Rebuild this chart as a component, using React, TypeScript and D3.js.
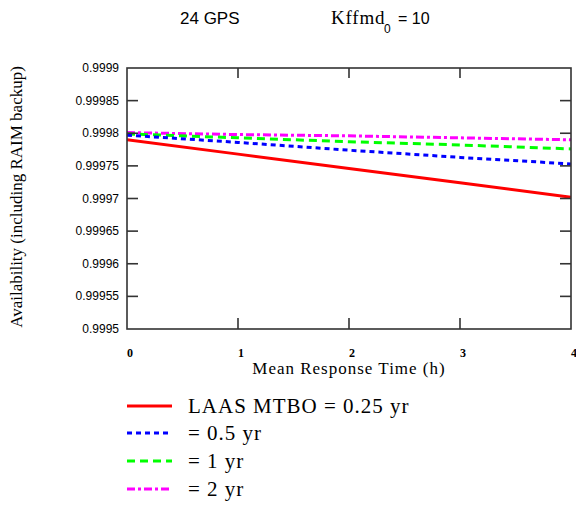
import React from "react";
import * as d3 from "d3";

const hours = [0, 1, 2, 3, 4];
const mtbo025 = [0.99979, 0.999768, 0.999746, 0.999724, 0.999702];
const mtbo05 = [0.999797, 0.999786, 0.999774, 0.999763, 0.999753];
const mtbo1 = [0.999799, 0.999793, 0.999787, 0.999782, 0.999776];
const mtbo2 = [0.999801, 0.999798, 0.999796, 0.999793, 0.99979];
const yTicks = [0.9995, 0.99955, 0.9996, 0.99965, 0.9997, 0.99975, 0.9998, 0.99985, 0.9999];
const yTickLabels = ["0.9995", "0.99955", "0.9996", "0.99965", "0.9997", "0.99975", "0.9998", "0.99985", "0.9999"];
const xTicks = [0, 1, 2, 3, 4];
const legendLabels = ["LAAS MTBO = 0.25 yr", "= 0.5 yr", "= 1 yr", "= 2 yr"];

const seriesStyles = [
  { color: "#ff0000", dash: "" },
  { color: "#0000ff", dash: "5,4" },
  { color: "#00ff00", dash: "8,5" },
  { color: "#ff00ff", dash: "8,3,3,3" },
];

export default function App() {
  const left = 127, right = 571, top = 68, bottom = 329;
  const x = d3.scaleLinear().domain([0, 4]).range([left, right]);
  const y = d3.scaleLinear().domain([0.9995, 0.9999]).range([bottom, top]);
  const series = [mtbo025, mtbo05, mtbo1, mtbo2];
  const line = d3
    .line<[number, number]>()
    .x((d) => x(d[0]))
    .y((d) => y(d[1]));
  const serif = "'Liberation Serif', 'Times New Roman', serif";
  const sans = "'Liberation Sans', Arial, sans-serif";
  const legendY = [406, 433, 461, 489];

  return (
    <svg width={576} height={505} style={{ position: "absolute", left: 0, top: 0, background: "#fff" }}>
      {/* title */}
      <text x={180} y={24} fontFamily={sans} fontSize={17} fill="#000">24 GPS</text>
      <text x={331} y={24} fontFamily={serif} fontSize={19} letterSpacing={0.8} fill="#000">Kffmd</text>
      <text x={384} y={33} fontFamily={sans} fontSize={12} fill="#000">0</text>
      <text x={398} y={24} fontFamily={sans} fontSize={16} fill="#000">= 10</text>

      {/* series */}
      <defs>
        <clipPath id="plotclip">
          <rect x={left} y={top} width={right - left} height={bottom - top} />
        </clipPath>
      </defs>
      <g clipPath="url(#plotclip)">
        {series
          .map((s, i) => (
            <path
              key={i}
              d={line(hours.map((h, j) => [h, s[j]] as [number, number])) || ""}
              fill="none"
              stroke={seriesStyles[i].color}
              strokeWidth={3}
              strokeDasharray={seriesStyles[i].dash || undefined}
            />
          ))
          .reverse()}
      </g>

      {/* frame */}
      <rect x={left} y={top} width={right - left} height={bottom - top} fill="none" stroke="#333" strokeWidth={1.6} />

      {/* y ticks */}
      {yTicks.map((t, i) => (
        <g key={"y" + i}>
          {i > 0 && i < yTicks.length - 1 && (
            <>
              <line x1={left} x2={left + 11} y1={y(t)} y2={y(t)} stroke="#333" strokeWidth={1.6} />
              <line x1={right - 11} x2={right} y1={y(t)} y2={y(t)} stroke="#333" strokeWidth={1.6} />
            </>
          )}
          <text x={119} y={y(t) + 4} textAnchor="end" fontFamily={sans} fontSize={12} fill="#000">
            {yTickLabels[i]}
          </text>
        </g>
      ))}

      {/* x ticks */}
      {xTicks.map((t, i) => (
        <g key={"x" + i}>
          {i > 0 && i < xTicks.length - 1 && (
            <>
              <line x1={x(t)} x2={x(t)} y1={top} y2={top + 10} stroke="#333" strokeWidth={1.6} />
              <line x1={x(t)} x2={x(t)} y1={bottom - 11} y2={bottom} stroke="#333" strokeWidth={1.6} />
            </>
          )}
          <text x={x(t) + 3} y={357} textAnchor="middle" fontFamily={serif} fontWeight="bold" fontSize={12} fill="#000">
            {t}
          </text>
        </g>
      ))}

      {/* axis titles */}
      <text x={349} y={374} textAnchor="middle" fontFamily={serif} fontSize={17} letterSpacing={1} fill="#000">
        Mean Response Time (h)
      </text>
      <text
        transform={`translate(22,197) rotate(-90)`}
        textAnchor="middle"
        fontFamily={serif}
        fontSize={17}
        fill="#000"
      >
        Availability (including RAIM backup)
      </text>

      {/* legend */}
      {legendLabels.map((lab, i) => (
        <g key={"l" + i}>
          <line
            x1={127}
            x2={172}
            y1={legendY[i]}
            y2={legendY[i]}
            stroke={seriesStyles[i].color}
            strokeWidth={3}
            strokeDasharray={seriesStyles[i].dash || undefined}
          />
          <text x={188} y={legendY[i] + 7} fontFamily={serif} fontSize={21} letterSpacing={1} fill="#000">
            {lab}
          </text>
        </g>
      ))}
    </svg>
  );
}
